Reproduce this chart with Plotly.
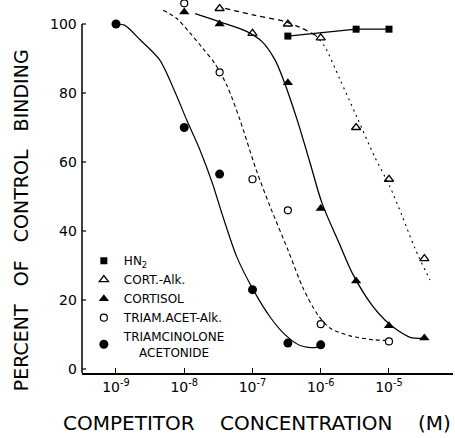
import plotly.graph_objects as go

# ---------------- data ----------------
hn2_conc = [3.3e-7, 3.3e-6, 1e-5]
hn2_val = [96.5, 98.5, 98.5]

cortalk_conc = [3.3e-8, 1e-7, 3.3e-7, 1e-6, 3.3e-6, 1e-5, 3.3e-5]
cortalk_val = [104.5, 97.3, 100, 96, 70, 55, 32]

cortisol_conc = [1e-8, 3.3e-8, 3.3e-7, 1e-6, 3.3e-6, 1e-5, 3.3e-5]
cortisol_val = [103.5, 100, 83, 46.5, 25.5, 12.5, 9]

triamalk_conc = [1e-8, 3.3e-8, 1e-7, 3.3e-7, 1e-6, 1e-5]
triamalk_val = [106, 86, 55, 46, 13, 8]

triam_conc = [1e-9, 1e-8, 3.3e-8, 1e-7, 3.3e-7, 1e-6]
triam_val = [100, 70, 56.5, 23, 7.5, 7]

# hand-drawn fitted curves (log10 concentration, percent)
triam_curve_log = [-9.00, -8.87, -8.65, -8.36, -8.14, -7.96, -7.77, -7.59, -7.43, -7.23, -6.99, -6.74, -6.52, -6.30, -6.08, -5.98]
triam_curve_val = [100, 99.6, 95.5, 89.6, 80.5, 72, 63.5, 54, 44, 32.5, 23, 15, 9.9, 6.8, 6.2, 7]

triamalk_curve_log = [-8.31, -8.11, -7.92, -7.73, -7.55, -7.37, -7.18, -6.95, -6.74, -6.48, -6.26, -6.04, -5.86, -5.57, -5.28, -4.99]
triamalk_curve_val = [104, 101.6, 97.5, 93, 88.5, 82, 72, 58, 47, 34.5, 23.5, 15.6, 11.8, 9.6, 8.6, 8.2]

cortisol_curve_log = [-7.84, -7.46, -7.08, -6.86, -6.67, -6.55, -6.35, -6.16, -5.98, -5.72, -5.53, -5.25, -5.06, -4.88, -4.69, -4.49]
cortisol_curve_val = [103, 100.5, 97.8, 94.9, 89.6, 84, 72.5, 60, 48, 36, 27.5, 18.5, 14.2, 11.3, 9.2, 8.9]

cortalk_top_log = [-7.40, -6.96, -6.52, -6.30, -6.08]
cortalk_top_val = [104.5, 102.5, 100.7, 99, 96.8]
cortalk_bot_log = [-6.08, -5.94, -5.72, -5.47, -5.21, -4.99, -4.81, -4.62, -4.40]
cortalk_bot_val = [96.8, 93.4, 84, 73, 61.5, 53, 44.5, 35, 25.8]

x_tickvals = [1e-9, 1e-8, 1e-7, 1e-6, 1e-5]
x_ticktext = ["10<sup>-9</sup>", "10<sup>-8</sup>", "10<sup>-7</sup>", "10<sup>-6</sup>", "10<sup>-5</sup>"]
y_tickvals = [0, 20, 40, 60, 80, 100]

legend_names = ["HN<sub>2</sub>", "CORT.-Alk.", "CORTISOL", "TRIAM.ACET-Alk.",
                "TRIAMCINOLONE<br>\u00a0\u00a0\u00a0\u00a0ACETONIDE"]

# ---------------- figure ----------------
FONT = "DejaVu Sans"
BLACK = "black"
fig = go.Figure()

def tolin(logs):
    return [10 ** v for v in logs]

SM = 0.8
fig.add_trace(go.Scatter(x=tolin(triam_curve_log), y=triam_curve_val, mode="lines",
                         line=dict(color=BLACK, width=1.2, shape="spline", smoothing=SM),
                         showlegend=False, hoverinfo="skip", cliponaxis=False))
fig.add_trace(go.Scatter(x=tolin(triamalk_curve_log), y=triamalk_curve_val, mode="lines",
                         line=dict(color=BLACK, width=1.1, shape="spline", smoothing=SM, dash="4px,3px"),
                         showlegend=False, hoverinfo="skip", cliponaxis=False))
fig.add_trace(go.Scatter(x=tolin(cortisol_curve_log), y=cortisol_curve_val, mode="lines",
                         line=dict(color=BLACK, width=1.3, shape="spline", smoothing=SM),
                         showlegend=False, hoverinfo="skip", cliponaxis=False))
fig.add_trace(go.Scatter(x=tolin(cortalk_top_log), y=cortalk_top_val, mode="lines",
                         line=dict(color=BLACK, width=1.3, shape="spline", smoothing=SM, dash="5px,4px"),
                         showlegend=False, hoverinfo="skip", cliponaxis=False))
fig.add_trace(go.Scatter(x=tolin(cortalk_bot_log), y=cortalk_bot_val, mode="lines",
                         line=dict(color=BLACK, width=1.1, shape="spline", smoothing=SM, dash="2px,4px"),
                         showlegend=False, hoverinfo="skip", cliponaxis=False))
fig.add_trace(go.Scatter(x=hn2_conc, y=hn2_val, mode="lines",
                         line=dict(color=BLACK, width=1.3),
                         showlegend=False, hoverinfo="skip", cliponaxis=False))

fig.add_trace(go.Scatter(x=hn2_conc, y=hn2_val, mode="markers", name=legend_names[0],
                         marker=dict(symbol="square", size=7, color=BLACK), cliponaxis=False))
fig.add_trace(go.Scatter(x=cortalk_conc, y=cortalk_val, mode="markers", name=legend_names[1],
                         marker=dict(symbol="triangle-up-open", size=8, color=BLACK,
                                     line=dict(width=1.3, color=BLACK)), cliponaxis=False))
fig.add_trace(go.Scatter(x=cortisol_conc, y=cortisol_val, mode="markers", name=legend_names[2],
                         marker=dict(symbol="triangle-up", size=9, color=BLACK), cliponaxis=False))
fig.add_trace(go.Scatter(x=triamalk_conc, y=triamalk_val, mode="markers", name=legend_names[3],
                         marker=dict(symbol="circle", size=7, color="white",
                                     line=dict(width=1.2, color=BLACK)), cliponaxis=False))
fig.add_trace(go.Scatter(x=triam_conc, y=triam_val, mode="markers", name=legend_names[4],
                         marker=dict(symbol="circle", size=9, color=BLACK), cliponaxis=False))

Y0, Y1 = -1.16, 106.96
PLOT_W = 455 - 82 - 2

# y-axis line (drawn only up to 100) and its short inward tick marks
shapes = [dict(type="line", xref="paper", x0=0, x1=0, yref="y", y0=Y0, y1=100,
               line=dict(color=BLACK, width=1.5))]
for v in y_tickvals:
    shapes.append(dict(type="line", xref="paper", x0=0, x1=4 / PLOT_W, yref="y", y0=v, y1=v,
                       line=dict(color=BLACK, width=1.2)))

# y tick labels as text placed at the tick values, just left of the axis
annotations = [dict(text=str(v), xref="paper", x=0, xanchor="right", xshift=-3,
                    yref="y", y=v, yanchor="middle", showarrow=False,
                    font=dict(size=14, family=FONT, color=BLACK)) for v in y_tickvals]
annotations += [
    dict(text="COMPETITOR\u00a0\u00a0\u00a0\u00a0CONCENTRATION\u00a0\u00a0\u00a0\u00a0(M)", xref="paper", yref="paper",
         x=0.4717, y=-0.134, xanchor="center", yanchor="middle", showarrow=False,
         font=dict(size=20, family=FONT)),
    dict(text="PERCENT\u00a0\u00a0\u00a0OF\u00a0\u00a0\u00a0CONTROL\u00a0\u00a0\u00a0BINDING", xref="paper", yref="paper",
         x=-0.164, y=0.41, xanchor="center", yanchor="middle", textangle=-90, showarrow=False,
         font=dict(size=19, family=FONT)),
]

fig.update_layout(
    width=455, height=438,
    margin=dict(l=82, r=2, t=0, b=65),
    plot_bgcolor="white", paper_bgcolor="white",
    font=dict(family=FONT, color=BLACK),
    xaxis=dict(type="log", range=[-9.498, -4.062], tickvals=x_tickvals, ticktext=x_ticktext,
               ticks="inside", ticklen=5, tickwidth=1.2, tickcolor=BLACK,
               showline=True, linecolor=BLACK, linewidth=1.5, showgrid=False, zeroline=False,
               tickfont=dict(size=14, family=FONT), automargin=False),
    yaxis=dict(range=[Y0, Y1], tickvals=y_tickvals, ticks="", showticklabels=False,
               showline=False, showgrid=False, zeroline=False, automargin=False),
    legend=dict(x=0.005, y=0.34, xanchor="left", yanchor="top", bgcolor="rgba(0,0,0,0)",
                font=dict(size=12, family=FONT), tracegroupgap=0, itemwidth=30),
    shapes=shapes,
    annotations=annotations,
)

fig.write_html("out.html")
